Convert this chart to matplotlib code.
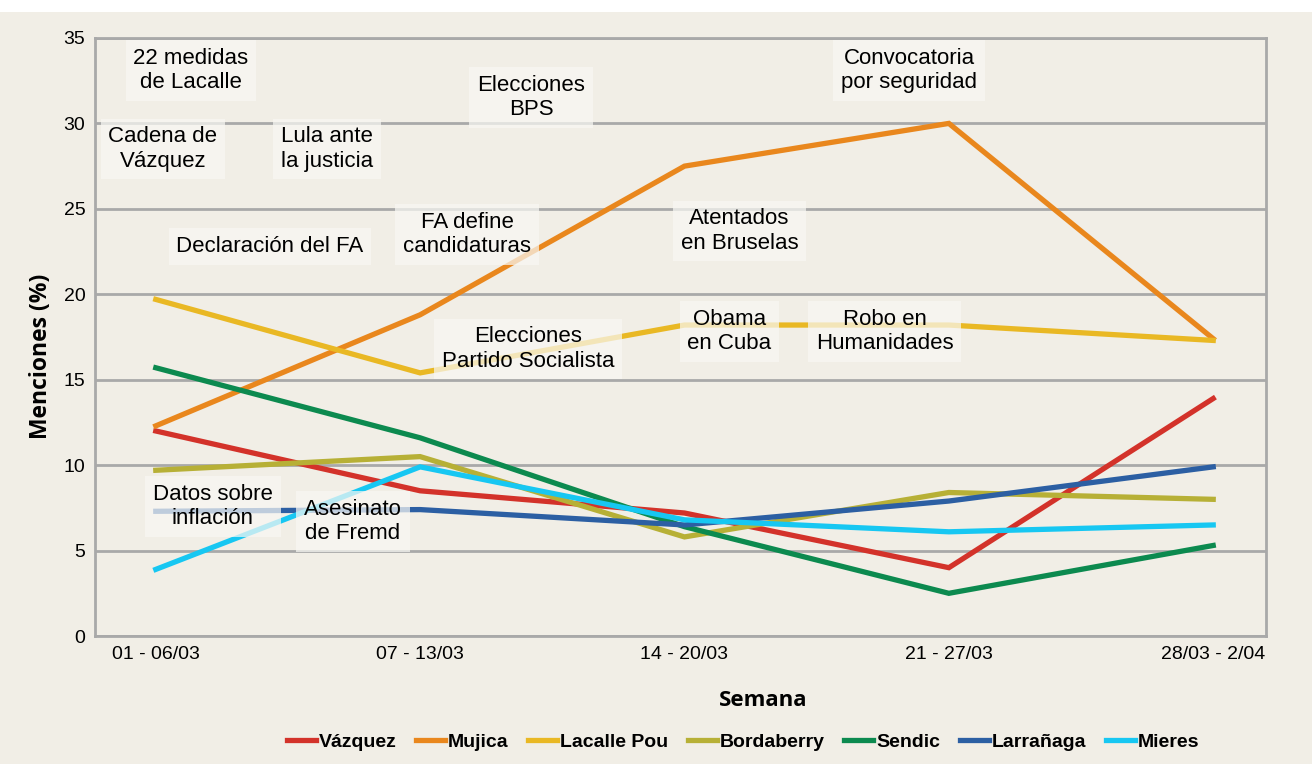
import matplotlib.pyplot as plt
import numpy as np
from matplotlib.patches import Rectangle

semanas = ['01 - 06/03', '07 - 13/03', '14 - 20/03', '21 - 27/03', '28/03 - 2/04']

vazquez = [12.0, 8.5, 7.2, 4.0, 13.9]
mujica = [12.3, 18.8, 27.5, 30.0, 17.4]
lacalle_pou = [19.7, 15.4, 18.2, 18.2, 17.3]
bordaberry = [9.7, 10.5, 5.8, 8.4, 8.0]
sendic = [15.7, 11.6, 6.4, 2.5, 5.3]
larranaga = [7.3, 7.4, 6.5, 7.9, 9.9]
mieres = [3.9, 9.9, 6.8, 6.1, 6.5]

nombres = ['Vázquez', 'Mujica', 'Lacalle Pou', 'Bordaberry', 'Sendic', 'Larrañaga', 'Mieres']
colores = ['#d3322a', '#e9871d', '#e9b824', '#b7b036', '#0c8a4f', '#2c5fa3', '#17c7f2']

# eventos anotados: texto, posición (semana, %)
eventos = ['22 medidas\nde Lacalle', 'Cadena de\nVázquez', 'Lula ante\nla justicia',
           'Elecciones\nBPS', 'Convocatoria\npor seguridad', 'Declaración del FA',
           'FA define\ncandidaturas', 'Atentados\nen Bruselas',
           'Elecciones\nPartido Socialista', 'Obama\nen Cuba', 'Robo en\nHumanidades',
           'Datos sobre\ninflación', 'Asesinato\nde Fremd']
ev_x = [0.133, 0.027, 0.648, 1.42, 2.85, 0.432, 1.178, 2.208, 1.409, 2.17, 2.758, 0.216, 0.746]
ev_y = [33.1, 28.5, 28.5, 31.5, 33.1, 22.8, 23.5, 23.7, 16.8, 17.8, 17.8, 7.6, 6.7]

fondo = '#f1eee6'
gris = '#a9a9a9'

fig = plt.figure(figsize=(13.12, 7.64), dpi=100, facecolor=fondo)
fig.patches.append(Rectangle((0, 1 - 12 / 764), 1, 12 / 764, transform=fig.transFigure,
                             facecolor='white', edgecolor='none', zorder=0))
ax = fig.add_axes([0.0724, 0.1675, 0.8926, 0.7828])
ax.set_facecolor(fondo)

x = np.arange(len(semanas))
series = [vazquez, mujica, lacalle_pou, bordaberry, sendic, larranaga, mieres]
for s, nom, col in zip(series, nombres, colores):
    ax.plot(x, s, color=col, lw=3.8, label=nom, zorder=3, solid_joinstyle='miter')

for tx, xx, yy in zip(eventos, ev_x, ev_y):
    ax.text(xx, yy, tx, ha='center', va='center', fontsize=16, family='Liberation Sans',
            linespacing=1.2, zorder=5,
            bbox=dict(boxstyle='square,pad=0.35', facecolor='#f8f7f3', edgecolor='none', alpha=0.72))

ax.set_xlim(-0.23, 4.2)
ax.set_ylim(0, 35)
ax.set_yticks(range(0, 36, 5))
ax.set_xticks(x)
ax.set_xticklabels(semanas)
ax.yaxis.grid(True, color=gris, lw=2)
ax.set_axisbelow(True)
for sp in ax.spines.values():
    sp.set_color(gris)
    sp.set_linewidth(2)
ax.tick_params(length=0, labelsize=14, pad=7)
for lab in ax.get_xticklabels() + ax.get_yticklabels():
    lab.set_family('Liberation Sans')

ax.set_ylabel('Menciones (%)', fontsize=16.5, fontweight='bold', family='Open Sans')
ax.set_xlabel('Semana', fontsize=16, fontweight='bold', family='Open Sans')
ax.yaxis.set_label_coords(-0.036, 0.467)
ax.xaxis.set_label_coords(0.571, -0.09)

fig.legend(loc='center', bbox_to_anchor=(743 / 1312, 1 - 742 / 764), ncol=7, frameon=False,
           handlelength=1.5, handletextpad=0.15, columnspacing=1.0,
           prop=dict(family='Liberation Sans', weight='bold', size=14))

plt.savefig('out.png', dpi=100, facecolor=fondo)
